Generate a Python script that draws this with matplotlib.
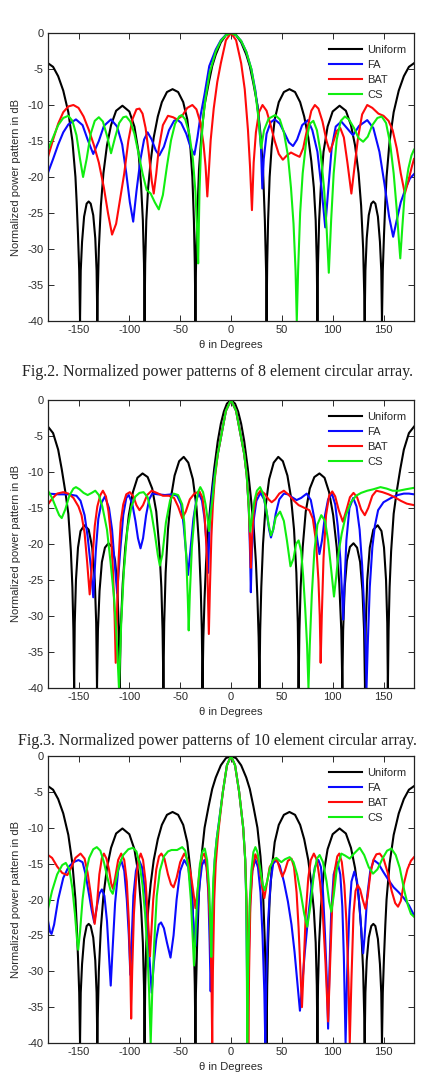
import numpy as np
import matplotlib
matplotlib.use("Agg")
import matplotlib.pyplot as plt

# (theta in deg, normalized power in dB)

# uniform 8 element (used in panels 1 and 3)
uniform_a = [(-180,-4.2),(-175,-4.7),(-170,-6.0),(-165,-8.0),(-160,-11),(-156,-15),(-153,-20),(-151.8,-23.5),
    (-150.5,-28),(-149.3,-33),(-148.5,-40),(-147.8,-33),(-146.5,-29),(-144.5,-25.5),(-142,-23.7),(-140,-23.4),
    (-138,-23.7),(-135.5,-25.3),(-133.5,-28.5),(-132.2,-33),(-131.5,-40),(-131,-36),(-130,-30),(-128,-24),
    (-125.5,-19.5),(-122,-15.6),(-118,-12.8),(-113,-10.8),(-106.8,-10.1),(-100,-10.9),(-95,-13),(-91,-16.5),
    (-88.5,-21),(-86.7,-26),(-85.6,-32),(-85,-40),(-84.4,-32),(-83.3,-26),(-81.5,-21.5),(-79,-17.8),(-76,-14.5),
    (-72,-11.6),(-68,-9.6),(-63,-8.2),(-57.5,-7.8),(-52,-8.2),(-47,-9.6),(-43,-12),(-40,-15.8),(-38,-20),
    (-36.5,-26),(-35.6,-32),(-35,-40),(-34.5,-33),(-33.3,-26),(-31.5,-19),(-29,-14),(-26,-10),(-22,-7.0),
    (-18.5,-4.6),(-15,-3.0),(-10,-1.3),(-5,-0.3),(0,0),(5,-0.3),(10,-1.3),(15,-3.0),(18.5,-4.6),(22,-7.0),
    (26,-10),(29,-14),(31.5,-19),(33.3,-26),(34.5,-33),(35,-40),(35.6,-32),(36.5,-26),(38,-20),(40,-15.8),
    (43,-12),(47,-9.6),(52,-8.2),(57.5,-7.8),(63,-8.2),(68,-9.6),(72,-11.6),(76,-14.5),(79,-17.8),(81.5,-21.5),
    (83.3,-26),(84.4,-32),(85,-40),(85.6,-32),(86.7,-26),(88.5,-21),(91,-16.5),(95,-13),(100,-10.9),
    (106.8,-10.1),(113,-10.8),(118,-12.8),(122,-15.6),(125.5,-19.5),(128,-24),(130,-30),(131,-36),(131.5,-40),
    (132.2,-33),(133.5,-28.5),(135.5,-25.3),(138,-23.7),(140,-23.4),(142,-23.7),(144.5,-25.5),(146.5,-29),
    (147.8,-33),(148.5,-40),(149.3,-33),(150.5,-28),(151.8,-23.5),(153,-20),(156,-15),(160,-11),(165,-8.0),
    (170,-6.0),(175,-4.7),(180,-4.2)]

fa_1 = [(-180,-19.4),(-175,-17.5),(-170,-15.5),(-165,-13.8),(-160,-12.7),(-152.5,-12.0),(-146,-12.8),
    (-141,-14.8),(-135.5,-16.8),(-130,-15.0),(-125,-12.9),(-118,-12.0),(-112,-13.0),(-107,-15.5),(-103,-19.5),
    (-99.5,-23.5),(-96.2,-26.2),(-93,-22),(-89,-17.5),(-85.5,-14.8),(-82,-13.8),(-78,-14.8),(-74,-16.3),
    (-70.5,-17.0),(-66,-15.8),(-61,-13.5),(-56,-12.2),(-53,-12.0),(-49,-12.5),(-44,-14),(-39.5,-16),(-36,-16.9),
    (-33,-14.5),(-30,-11.5),(-26,-8.5),(-21.4,-4.6),(-15,-2.3),(-10,-1.0),(-5,-0.25),(0,0),(5,-0.3),(10,-1.1),
    (15,-2.6),(20,-5.0),(24,-8.0),(27,-11.5),(29.5,-16),(30.8,-21.6),(32.2,-17.5),(35,-14),(39,-12.4),(43,-12.0),
    (48,-12.6),(53,-14.0),(57,-15.2),(61,-15.7),(65,-14.8),(70,-12.8),(75.7,-12.1),(80,-13.5),(85,-16.5),
    (89,-21.5),(92.7,-27),(95.5,-22),(99,-16),(103,-13),(108.5,-12.3),(114,-13.2),(120,-14.2),(126,-12.9),
    (134,-12.1),(140,-13.2),(146,-16.5),(151,-21),(155.5,-25.5),(159.5,-28.3),(163,-26),(167,-23.5),
    (172,-21.5),(176,-20.2),(180,-19.6)]

bat_1 = [(-180,-17.2),(-175,-14.8),(-170,-12.6),(-165,-11.0),(-160,-10.2),(-155,-10.0),(-150,-10.4),
    (-145,-11.6),(-140,-13.4),(-135,-15.5),(-130,-18),(-125,-21.5),(-121,-25),(-117,-28.0),(-113,-26.5),
    (-109,-23),(-105,-19.5),(-101,-15),(-97,-12),(-93,-10.6),(-90,-10.5),(-87,-11.2),(-84,-13.2),(-81,-16.5),
    (-78,-20.5),(-76,-22.3),(-73.5,-19.5),(-71,-16),(-67,-12.8),(-62,-11.5),(-57,-11.7),(-53,-12.0),(-48,-11.5),
    (-43,-10.4),(-38,-10.0),(-34,-10.6),(-30,-12.5),(-27,-15.5),(-25,-18.5),(-23.3,-22.7),(-21.5,-18.5),
    (-20,-14.9),(-17,-10.5),(-13.5,-6.8),(-10,-4.2),(-5,-1.0),(0,0),(5,-1.0),(10,-4.2),(13.5,-7.8),(16.7,-13.5),
    (18.7,-18.5),(20.6,-24.6),(22.3,-18.0),(24.5,-13.8),(27.5,-11.0),(31,-10.0),(35,-10.8),(39,-12.8),(43,-15),
    (47,-16.8),(51,-17.6),(55,-17.0),(59,-16.6),(63,-16.9),(67.5,-17.2),(71,-16.0),(75,-13.3),(79,-10.8),
    (82.5,-10.0),(86,-10.5),(90,-12.3),(94,-15),(97.3,-16.5),(100.5,-15.2),(104,-13.6),(107.5,-13.2),
    (111,-14.5),(114.5,-18),(118.4,-22.3),(122,-18),(125,-14.5),(129,-11.3),(134,-10.0),(139,-10.4),
    (145,-11.2),(150,-11.5),(155,-12.2),(159,-13.5),(163,-16),(167,-19.5),(171,-22.3),(174.5,-20.5),
    (178,-18.5),(180,-17.5)]

cs_1 = [(-180,-16.2),(-175,-14.5),(-170,-12.8),(-165,-11.8),(-160,-11.5),(-156,-12.2),(-152,-14.2),
    (-148.5,-17.5),(-145.5,-20.0),(-142,-17.5),(-138,-14),(-134,-12.2),(-130,-11.7),(-126,-12.3),(-121.5,-14.5),
    (-118,-16.7),(-114,-14.5),(-110,-12.5),(-106,-11.7),(-103,-11.6),(-99,-12.3),(-95,-14),(-91,-16.7),
    (-87,-19.5),(-83,-21.8),(-79,-22.3),(-75,-23.5),(-71,-24.5),(-67,-22.5),(-63,-18.5),(-59,-14.9),(-55,-12.6),
    (-51,-11.6),(-48.5,-11.4),(-45,-12.0),(-41,-14),(-37.5,-17.5),(-35,-22),(-33.5,-27),(-32.3,-32),(-31,-22),
    (-29.5,-16),(-27.5,-12),(-25,-9),(-21,-5.5),(-15,-2.6),(-10,-1.1),(-5,-0.3),(0,0),(5,-0.3),(10,-1.1),
    (15,-2.6),(20,-5.0),(24,-8.3),(27,-11.8),(29.6,-16.0),(32.5,-13.5),(37,-11.9),(43.5,-11.4),(48,-12.0),
    (52,-13.8),(56,-17.0),(59,-21.5),(61.5,-26.5),(63.5,-33),(64.7,-40),(66,-33),(68,-25),(70.5,-19.5),(74,-15),
    (77.5,-12.6),(81,-12.2),(84.5,-13.5),(88,-16.5),(91.5,-21.5),(94,-27),(96.2,-33.3),(98.5,-26),(101,-19.5),
    (104,-14.8),(108,-12.2),(112,-11.6),(116,-12.0),(121,-13.2),(125.5,-14.6),(130,-15.1),(134.5,-14.4),
    (139,-12.8),(144,-11.8),(148.3,-11.6),(152.5,-12.5),(156.5,-15.3),(160,-19.5),(163,-24.5),(165,-28.5),
    (166.5,-31.3),(168.5,-27),(171,-22),(174.5,-18.8),(177.5,-17),(180,-16.2)]

# uniform 10 element
uniform_b = [(-180,-3.7),(-175,-4.6),(-170,-6.9),(-166.5,-9.6),(-163,-12.7),(-160,-15.8),(-157.5,-21),
    (-156,-26),(-155,-32),(-154.3,-40),(-153.7,-31),(-152.5,-25),(-150.5,-20.5),(-148,-18.2),(-144.3,-17.4),
    (-140,-18),(-136.5,-20.5),(-134,-25),(-132.6,-31),(-131.8,-40),(-130.9,-32),(-129.3,-26.5),(-127,-22.5),
    (-124,-20.5),(-120.5,-19.9),(-117,-20.4),(-114,-22.3),(-111.8,-26),(-110.3,-32),(-109.5,-40),(-108.5,-32),
    (-106.5,-25.5),(-104,-20.5),(-100.5,-16),(-96.5,-12.8),(-92,-10.8),(-87,-10.2),(-82,-10.7),(-77.5,-12.3),
    (-73.5,-15.5),(-70.5,-20.5),(-68.5,-26),(-67.3,-32),(-66.5,-40),(-65.7,-31),(-64.3,-24),(-62,-18),
    (-59,-13.5),(-55.5,-10.5),(-51,-8.5),(-46.5,-7.9),(-42,-8.7),(-37.5,-11),(-34,-14.8),(-31.5,-20),
    (-29.8,-26),(-28.7,-32),(-28,-40),(-27.2,-33),(-26,-27.5),(-24.5,-22.5),(-22.5,-18),(-19.5,-13.5),
    (-16.5,-9.5),(-13,-5.7),(-10,-3.3),(-7,-1.6),(-4,-0.5),(0,0),(4,-0.5),(7,-1.6),(10,-3.3),(13,-5.7),
    (16.5,-9.5),(19.5,-13.5),(22.5,-18),(24.5,-22.5),(26,-27.5),(27.2,-33),(28,-40),(28.7,-32),(29.8,-26),
    (31.5,-20),(34,-14.8),(37.5,-11),(42,-8.7),(46.5,-7.9),(51,-8.5),(55.5,-10.5),(59,-13.5),(62,-18),
    (64.3,-24),(65.7,-31),(66.5,-40),(67.3,-32),(68.5,-26),(70.5,-20.5),(73.5,-15.5),(77.5,-12.3),(82,-10.7),
    (87,-10.2),(92,-10.8),(96.5,-12.8),(100.5,-16),(104,-20.5),(106.5,-25.5),(108.5,-32),(109.5,-40),
    (110.3,-32),(111.8,-26),(114,-22.3),(117,-20.4),(120.5,-19.9),(124,-20.5),(127,-22.5),(129.3,-26.5),
    (130.9,-32),(131.8,-40),(132.6,-31),(134,-25),(136.5,-20.5),(140,-18),(144.3,-17.4),(148,-18.2),
    (150.5,-20.5),(152.5,-25),(153.7,-31),(154.3,-40),(155,-32),(156,-26),(157.5,-21),(160,-15.8),
    (163,-12.7),(166.5,-9.6),(170,-6.9),(175,-4.6),(180,-3.7)]

fa_2 = [(-180,-13.0),(-170,-13.1),(-160,-13.1),(-152,-13.3),(-148,-14.0),(-144,-16.0),(-141,-19),(-138,-23),
    (-135.5,-27.4),(-133,-21),(-130.5,-16.5),(-127.5,-14.3),(-124,-13.4),(-120,-15),(-117,-18),(-114.5,-22.5),
    (-112,-26.8),(-109,-21),(-106,-16),(-103,-13.6),(-100.5,-13.2),(-97,-14.5),(-94,-16.8),(-91.5,-19.2),
    (-89,-20.6),(-86.5,-19.2),(-83.5,-16),(-80.5,-13.8),(-77.5,-13.0),(-72,-13.1),(-65,-13.2),(-58,-13.1),
    (-53,-13.3),(-49,-14.5),(-46.5,-17.5),(-44,-21.5),(-42.3,-24.3),(-40,-21),(-37,-16.5),(-34,-13.8),
    (-31.5,-13.0),(-28.5,-14),(-26,-16.5),(-24,-20),(-22.5,-24),(-21,-17),(-18.5,-13),(-16,-10.2),(-13,-7.5),
    (-9,-4.5),(-5,-1.5),(0,0),(5,-1.5),(9,-4.5),(13,-7.5),(15.5,-10.5),(17.5,-15),(18.7,-21),(19.5,-26.7),
    (20.5,-21),(22.5,-16.5),(25,-14),(29,-12.9),(32.5,-13.8),(35,-15.5),(37.5,-18),(39.3,-19.1),(41.5,-18),
    (44,-15.8),(47.5,-13.8),(52,-13.0),(56,-13.1),(60,-13.5),(64.5,-13.9),(69,-13.6),(74.5,-13.0),(78.5,-13.9),
    (82,-16.5),(85,-19.5),(87,-21.4),(89.5,-19.5),(92.5,-16),(95.5,-13.8),(99.3,-13.0),(102.5,-14.5),
    (105,-17.5),(107.5,-22),(109.3,-27),(110.3,-30.5),(111.5,-26),(113.5,-19.5),(116.5,-15),(120.2,-13.6),
    (123.5,-14.8),(126.5,-18),(129,-23),(131,-29),(132.3,-34),(133.3,-40),(134.5,-34),(136.5,-26),(139,-20.5),
    (141.5,-17.5),(144.7,-15.3),(150,-14.2),(157.5,-13.6),(164,-13.2),(170,-13.0),(175,-13.0),(180,-13.1)]

bat_2 = [(-180,-14.5),(-176,-13.7),(-171,-13.0),(-165,-12.8),(-160,-13.0),(-155,-13.6),(-150,-14.8),
    (-147,-16.0),(-144,-18.5),(-141.5,-22.5),(-139,-27.0),(-136.5,-22.5),(-134,-17.5),(-131.5,-14.8),
    (-128.5,-13.2),(-126,-12.6),(-123,-13.4),(-120.5,-15.5),(-118,-19),(-116,-24),(-114.5,-30),(-113.4,-36.5),
    (-112,-29),(-110.5,-22),(-108.5,-17),(-106,-14.5),(-103,-13.1),(-99.5,-12.8),(-96,-13.4),(-93,-14.6),
    (-90,-15.3),(-86.5,-14.6),(-82.5,-13.2),(-78,-12.6),(-73,-12.9),(-67,-13.3),(-61,-13.3),(-56,-13.6),
    (-52,-14.8),(-48,-16.4),(-44.5,-15.5),(-40.5,-13.8),(-36,-13.0),(-31,-12.7),(-28,-13.6),(-26,-16),
    (-24.3,-20),(-23,-25),(-21.8,-32.5),(-20.7,-26),(-19.3,-19),(-17.8,-14.5),(-16,-11),(-13,-7.5),(-9,-4.5),
    (-5,-1.5),(0,0),(5,-1.5),(9,-4.5),(13,-7.5),(15.5,-10.5),(17.5,-15),(18.7,-19.5),(19.5,-23.3),(20.5,-19.5),
    (22.3,-15.5),(25,-13.3),(29,-12.6),(33,-13.0),(37,-13.8),(40,-14.2),(43.5,-13.8),(47.5,-13.0),(52,-12.6),
    (57,-13.2),(62,-14.0),(66.5,-14.6),(71,-14.9),(77,-15.3),(80.5,-16.5),(83.5,-19.5),(86,-25),(87.3,-30),
    (88.2,-36.5),(89.3,-30),(91,-22),(93.5,-16),(96.5,-13.3),(99.6,-12.7),(102.5,-13.4),(106,-15.3),
    (110,-16.9),(113.5,-15.3),(117,-13.5),(120.5,-12.9),(124,-13.5),(128,-15.2),(131.6,-16.0),(135,-15),
    (139,-13.3),(143,-12.6),(149,-12.8),(155,-13.1),(161,-13.5),(167,-14.0),(173,-14.4),(180,-14.6)]

cs_2 = [(-180,-12.6),(-176,-13.6),(-172,-15.0),(-169,-16.0),(-166.5,-16.4),(-163,-15.2),(-159,-13.3),
    (-155,-12.3),(-152.5,-12.1),(-149,-12.4),(-145,-12.9),(-141,-13.2),(-137,-12.9),(-133.5,-12.6),(-130,-13.2),
    (-126.5,-14.8),(-122,-18),(-118.5,-22.5),(-115,-27.5),(-112.5,-33),(-110.2,-40),(-108,-31),(-105.5,-24),
    (-102,-18.1),(-98,-14.8),(-94,-13.4),(-90,-12.9),(-86,-12.8),(-82,-13.5),(-78.5,-15.5),(-75,-18.5),
    (-72,-21.5),(-70,-23.0),(-67.5,-21.5),(-64,-17),(-60,-14),(-56.5,-13.0),(-52,-13.2),(-48,-14.5),(-46,-17),
    (-44,-22),(-42.5,-27.5),(-41.6,-32),(-40.5,-27),(-38.5,-20.5),(-35.5,-15.5),(-32.5,-12.8),(-30.2,-12.1),
    (-27.5,-12.8),(-25,-14.5),(-23,-16.5),(-21.6,-18.2),(-20,-15.8),(-18,-13.5),(-16,-10.7),(-13,-7.5),
    (-9,-4.5),(-5,-1.5),(0,0),(5,-1.5),(9,-4.5),(13,-7.5),(15.5,-10.5),(17.3,-14.5),(18.8,-18.3),(20.5,-16.5),
    (23,-14),(25.5,-12.6),(28.6,-12.1),(31.5,-13),(34.5,-15),(37,-17.3),(39.3,-18.8),(41.5,-18),(44,-16.3),
    (48.3,-15.5),(52,-16.8),(55,-19.5),(58.5,-23.1),(61.5,-22),(64,-20),(66.5,-19.5),(69,-21),(71,-24.5),
    (73,-29),(74.8,-34),(76.2,-40),(77.5,-34),(79.5,-27),(82,-21),(85,-17.3),(88.8,-16.0),(92.5,-16.8),
    (95.5,-19.5),(98.5,-23.5),(101.3,-27.3),(103.5,-24.5),(106,-21),(109,-18.5),(113,-16),(118,-14.2),
    (123,-13.3),(128,-12.9),(134,-12.6),(140,-12.4),(147,-12.1),(153,-12.3),(159,-12.6),(165,-12.6),
    (172,-12.4),(180,-12.2)]

fa_3 = [(-180,-23.0),(-178,-24.5),(-176.5,-24.8),(-174,-23.5),(-170,-20),(-165,-17.0),(-160,-15.5),
    (-155,-14.8),(-150,-14.5),(-146,-14.8),(-143,-16.5),(-140,-19),(-137,-21.5),(-134.5,-23.2),(-132,-21),
    (-129.5,-19.2),(-127,-18.6),(-124.5,-19.5),(-122,-23),(-120,-28),(-118.3,-32.0),(-116.5,-27),(-114,-20.5),
    (-111,-16),(-108,-14.5),(-105,-16),(-102.5,-20),(-100.5,-25),(-99,-30.5),(-97.8,-26),(-96,-19.5),
    (-93.5,-16),(-90.5,-14.5),(-87.5,-15.5),(-84.5,-19),(-82,-23.5),(-80,-28.5),(-78,-33),(-76,-29),
    (-73.5,-25.5),(-71,-23.5),(-68.8,-23.2),(-66,-24),(-63,-26),(-59.5,-28.1),(-56.5,-25),(-53.5,-20),
    (-50,-16),(-46,-14.5),(-42,-15.5),(-39,-19),(-36.5,-24),(-35,-26.5),(-33.5,-23),(-31,-18),(-28.5,-15.2),
    (-26.2,-14.5),(-24,-15.5),(-22.3,-19),(-21,-26),(-20,-32.8),(-19,-26),(-17.5,-19),(-16,-14.5),(-14,-11.5),
    (-12,-9.3),(-8,-5.0),(-4,-1.3),(0,0),(4,-1.3),(8,-5.0),(12,-10),(14,-14.5),(15,-20),(15.7,-30),(16.2,-40),
    (17.5,-28),(19,-20),(21,-16),(23.9,-14.4),(26.5,-15.5),(29,-19),(31,-25),(32.8,-33),(33.7,-40),(34.7,-31),
    (36.5,-23),(39,-17.5),(41.5,-15),(44.6,-14.5),(48,-15.3),(52,-17.5),(56,-20.3),(59.5,-23.5),(62.5,-27.3),
    (65.5,-32),(67.8,-35.5),(70,-32),(72.5,-27.5),(75.7,-22.7),(79,-18.5),(82.5,-15.5),(86,-14.5),(88.5,-15.5),
    (90.5,-19),(92.5,-25),(94.2,-31),(95.5,-38),(96.8,-30),(98.5,-22),(101,-16.5),(104.8,-14.8),(107.5,-16.5),
    (109.5,-21),(111,-28),(112.7,-40),(114.3,-30),(116.5,-21.5),(118.5,-17.5),(121.3,-16.1),(124,-17.5),
    (126.5,-21),(128.5,-25),(130,-27.5),(131.5,-25),(134,-19.5),(137,-16),(140.5,-14.5),(145,-15),(150,-16.2),
    (155,-17.3),(160,-18.3),(165,-19),(170,-19.8),(175,-20.8),(180,-22.2)]

bat_3 = [(-180,-13.8),(-176,-14.2),(-171,-15.4),(-166,-16.3),(-161,-16.6),(-157,-15.5),(-153,-14.2),
    (-148,-13.6),(-144,-14.3),(-141,-16.3),(-138,-19.2),(-136,-21.5),(-134.1,-23.4),(-132,-21),(-129.5,-16.5),
    (-127,-14.2),(-125,-13.6),(-122.5,-14.3),(-120,-15.8),(-117.8,-17.8),(-116.1,-18.5),(-114,-17),(-111,-14.5),
    (-108,-13.6),(-105,-14.5),(-102.5,-17.5),(-100.5,-23),(-99,-30),(-98.2,-36.6),(-97.2,-30),(-95.5,-22),
    (-93.3,-17),(-91,-14.5),(-88.8,-13.6),(-86.5,-14.5),(-84,-17.5),(-82,-22),(-80.5,-25.5),(-79.7,-27.9),
    (-78.5,-25),(-76.5,-20),(-73.5,-15.8),(-70.8,-14),(-68.5,-13.6),(-65.5,-14.3),(-62,-16.5),(-59,-17.9),
    (-56.5,-18.3),(-53.5,-17),(-50,-14.8),(-46,-13.6),(-42.5,-14.5),(-39.5,-16.5),(-37,-19),(-35,-21.2),
    (-33,-19),(-30.5,-15.5),(-28,-13.9),(-26.3,-13.6),(-24.5,-14.5),(-22.5,-18),(-20.5,-24),(-19.2,-31),
    (-18.5,-40),(-17.8,-30),(-16.5,-20),(-15,-15),(-13,-11.5),(-12,-10),(-8,-5.0),(-4,-1.3),(0,0),(4,-1.3),
    (8,-5.0),(12,-10),(14,-14.5),(15.5,-21),(16.5,-30),(17,-40),(17.8,-30),(19,-21),(21,-16),(23.9,-13.7),
    (26.5,-14.5),(29,-16.5),(31,-18.5),(32.8,-19.8),(35,-18),(38,-15.5),(43,-14.3),(46,-14.8),(48.5,-16),
    (50.5,-16.8),(53,-16),(56,-14.6),(59.5,-14.3),(62,-15.5),(64.5,-19),(66.5,-24),(68.3,-30),(69.8,-35),
    (71.3,-30),(73.5,-22),(76,-17),(78.5,-14.5),(81.5,-13.6),(84.5,-14.5),(87.5,-17.5),(90.5,-22.5),(93,-29),
    (95.5,-37),(97.5,-29),(99.5,-21),(102,-16),(104.5,-14),(106.5,-13.6),(109,-14.8),(111.5,-18),(113.5,-23),
    (115.5,-31),(116.8,-40),(118.5,-31),(120.5,-22),(122.5,-18.8),(124.7,-18.0),(127,-18.6),(129.5,-20),
    (132.2,-21.3),(134.5,-19.5),(137,-16.5),(140,-14.5),(143,-13.7),(146.3,-13.6),(150,-14.3),(154,-16.2),
    (158,-18.8),(161.5,-20.5),(164.3,-21.0),(167,-20.2),(170,-17.8),(173.5,-15.8),(177,-14.6),(180,-14.1)]

cs_3 = [(-180,-21.3),(-176,-18.8),(-171,-16.5),(-166,-15.2),(-162.5,-14.9),(-159,-15.8),(-156,-18.5),
    (-153.5,-22),(-151.5,-25.5),(-150.3,-27.0),(-148.5,-24.5),(-146,-20),(-143,-16.5),(-139.5,-14.2),
    (-135.5,-13.0),(-132,-12.7),(-128.5,-13.2),(-125,-14.8),(-121.5,-17),(-118.5,-18.7),(-116.3,-19.2),
    (-113.5,-17.5),(-110,-15.2),(-106,-13.8),(-101,-13),(-96.5,-12.8),(-93,-13.3),(-90,-15),(-87,-18),
    (-84.5,-22),(-82.3,-27),(-80.5,-33),(-79,-40),(-77.5,-33),(-75.5,-26),(-73,-19.5),(-70,-16),(-66,-14),
    (-62,-13.3),(-58.5,-13.1),(-53,-13.1),(-48,-12.7),(-45,-13.2),(-42,-15.5),(-39.5,-20),(-37.8,-25),
    (-36.4,-29.2),(-35,-25),(-33,-19),(-30.5,-15),(-28,-13.3),(-25.8,-12.9),(-23.5,-14.5),(-21.5,-18.5),
    (-20.2,-23.5),(-19.4,-28),(-18.5,-22),(-17.3,-17),(-15.8,-14),(-14,-11.5),(-12,-9.5),(-8,-5.0),(-4,-1.3),
    (0,0),(4,-1.3),(8,-5.0),(12,-10),(14,-14.5),(15,-20),(15.6,-30),(16,-40),(16.8,-30),(18.2,-21),(20,-16),
    (22,-13.4),(24,-12.7),(26,-13.4),(28.5,-15.5),(31,-17.8),(33.1,-18.7),(35.5,-17.5),(38.5,-15.5),
    (41.5,-14.5),(44.6,-14.2),(47,-14.5),(49.5,-14.8),(53,-14.4),(57.7,-14.1),(61.5,-14.8),(65,-16.5),
    (68.5,-19),(72,-22),(75,-23.8),(78,-21),(81.5,-16.5),(84.5,-14.3),(87.2,-13.8),(90.5,-14.8),(94,-17.5),
    (96.5,-20.3),(98.7,-21.7),(101,-19.5),(104,-15.8),(108.5,-13.6),(112.5,-13.9),(116.8,-14.3),(121,-13.6),
    (126.6,-12.8),(131,-13.8),(135.5,-15.5),(139.7,-16.4),(144,-15.8),(149,-14.3),(153.5,-13.2),
    (157.7,-12.9),(162,-13.8),(166,-15.6),(170.5,-18.8),(174,-20.8),(177,-22),(180,-22.4)]

labels = ["Uniform", "FA", "BAT", "CS"]
colors = ["#000000", "#0a0aff", "#ff0a0a", "#10ee10"]
panels = [
    [uniform_a, fa_1, bat_1, cs_1],
    [uniform_b, fa_2, bat_2, cs_2],
    [uniform_a, fa_3, bat_3, cs_3],
]
captions = ["Fig.2. Normalized power patterns of 8 element circular array.",
            "Fig.3. Normalized power patterns of 10 element circular array."]
xticks = [-150, -100, -50, 0, 50, 100, 150]
yticks = [0, -5, -10, -15, -20, -25, -30, -35, -40]

W, H = 425, 1076
fig = plt.figure(figsize=(W / 100, H / 100), dpi=100)
txt_col = "#2a2a2a"
sans = "Liberation Sans"

# axes boxes in pixels: (top, bottom)
boxes = [(33, 321), (400, 688), (756, 1043)]
cap_y = [372, 741]

for k, curves in enumerate(panels):
    top, bot = boxes[k]
    ax = fig.add_axes([48 / W, (H - bot) / H, 366 / W, (bot - top) / H])
    for data, lab, c in zip(curves, labels, colors):
        d = np.array(data)
        ax.plot(d[:, 0], d[:, 1], color=c, lw=1.5, label=lab)
    ax.set_xlim(-180, 180)
    ax.set_ylim(-40, 0)
    ax.set_xticks(xticks)
    ax.set_yticks(yticks)
    ax.set_yticklabels([str(v) for v in yticks])
    ax.set_xticklabels([str(v) for v in xticks])
    ax.tick_params(direction="in", top=True, right=True, length=4, width=0.7,
                   labelsize=8, colors=txt_col, pad=3)
    for lbl in ax.get_xticklabels() + ax.get_yticklabels():
        lbl.set_fontfamily(sans)
    for s in ax.spines.values():
        s.set_color("#222222")
        s.set_linewidth(0.9)
    ax.text(0.5, -(345 - 321) / 288, "\u03b8 in Degrees", transform=ax.transAxes,
            ha="center", va="center", fontsize=8, color=txt_col, family=sans)
    ax.text(-(48 - 16.5) / 366, 0.5, "Normalized power pattern in dB", transform=ax.transAxes,
            ha="center", va="center", rotation=90, fontsize=8, color=txt_col, family=sans)
    leg = ax.legend(loc="upper right", bbox_to_anchor=(1.0, 0.985), frameon=False,
                    prop={"family": sans, "size": 8}, handlelength=2.9, handletextpad=0.5,
                    labelspacing=0.45, borderaxespad=0.3)
    for t in leg.get_texts():
        t.set_color(txt_col)
    if k < 2:
        fig.text(217 / W, 1 - cap_y[k] / H, captions[k], ha="center", va="center",
                 fontsize=11.5, family="Liberation Serif", color="#222222")

fig.savefig("out.png", dpi=100)
